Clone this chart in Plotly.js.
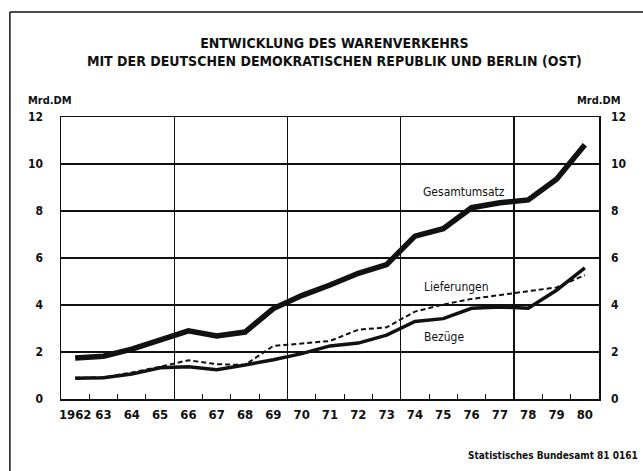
<!DOCTYPE html>
<html>
<head>
<meta charset="utf-8">
<script src="https://cdn.plot.ly/plotly-3.0.1.min.js"></script>
<style>html,body{margin:0;padding:0;background:#fff;}#chart{width:643px;height:471px;}</style>
</head>
<body>
<div id="chart"></div>
<script>
// ---- data (Mrd. DM) ----
const years = [1962,1963,1964,1965,1966,1967,1968,1969,1970,1971,1972,1973,1974,1975,1976,1977,1978,1979,1980];
const yearLabels = ['1962','63','64','65','66','67','68','69','70','71','72','73','74','75','76','77','78','79','80'];
const gesamtumsatz = [1.75,1.82,2.12,2.49,2.90,2.68,2.85,3.85,4.40,4.85,5.35,5.72,6.93,7.25,8.14,8.35,8.47,9.35,10.82];
const lieferungen  = [0.90,0.92,1.13,1.37,1.65,1.48,1.45,2.26,2.36,2.47,2.95,3.05,3.72,4.02,4.26,4.42,4.57,4.75,5.27];
const bezuege      = [0.88,0.90,1.06,1.33,1.37,1.25,1.45,1.67,1.93,2.26,2.38,2.72,3.30,3.42,3.86,3.92,3.86,4.63,5.58];
const yTickVals = [0,2,4,6,8,10,12];
const yTickText = ['0','2','4','6','8','10','12'];
const yearBounds = [1961.5,1962.5,1963.5,1964.5,1965.5,1966.5,1967.5,1968.5,1969.5,1970.5,1971.5,1972.5,1973.5,1974.5,1975.5,1976.5,1977.5,1978.5,1979.5,1980.5];
const gridBounds = [1965.5,1969.5,1973.5,1977.5];

const FONT = 'DejaVu Sans Condensed, Liberation Sans Narrow, Arial Narrow, sans-serif';
const XR = [1961.5, 1980.5];
const YR = [0, 12];

const traces = [
  {x: [], y: [], xaxis: 'x', yaxis: 'y', showlegend: false, hoverinfo: 'skip', mode: 'lines'},
  {x: [], y: [], xaxis: 'x2', yaxis: 'y', showlegend: false, hoverinfo: 'skip', mode: 'lines'},
  {x: [], y: [], xaxis: 'x3', yaxis: 'y2', showlegend: false, hoverinfo: 'skip', mode: 'lines'},
  {name: 'Lieferungen', x: years, y: lieferungen, xaxis: 'x3', yaxis: 'y', mode: 'lines',
   line: {color: '#111', width: 2, dash: '5px,3px'}, showlegend: false},
  {name: 'Bezüge', x: years, y: bezuege, xaxis: 'x3', yaxis: 'y', mode: 'lines',
   line: {color: '#111', width: 3.5}, showlegend: false},
  {name: 'Gesamtumsatz', x: years, y: gesamtumsatz, xaxis: 'x3', yaxis: 'y', mode: 'lines',
   line: {color: '#111', width: 5.5}, showlegend: false}
];

const layout = {
  width: 643, height: 471,
  margin: {l: 61, r: 44, t: 117, b: 72, pad: 0},
  paper_bgcolor: '#fff', plot_bgcolor: '#fff',
  font: {family: FONT, color: '#111', size: 13},
  showlegend: false,
  title: {
    text: 'ENTWICKLUNG DES WARENVERKEHRS<br>MIT DER DEUTSCHEN DEMOKRATISCHEN REPUBLIK UND BERLIN (OST)',
    font: {family: FONT, size: 14, color: '#111', weight: 'bold'},
    x: 0.52, xanchor: 'center', xref: 'container',
    y: 0.899, yanchor: 'top', yref: 'container'
  },
  xaxis: {
    range: XR, tickmode: 'array', tickvals: yearBounds, ticks: 'inside', ticklen: 5,
    tickcolor: '#111', tickwidth: 1, showticklabels: false, showgrid: false, zeroline: false,
    showline: true, mirror: true, linecolor: '#111', linewidth: 1.5, fixedrange: true
  },
  xaxis2: {
    overlaying: 'x', anchor: 'y', side: 'bottom', range: XR, tickmode: 'array', tickvals: gridBounds,
    ticks: '', showticklabels: false, showgrid: true, gridcolor: '#111', gridwidth: 1.2,
    zeroline: false, showline: false
  },
  xaxis3: {
    overlaying: 'x', anchor: 'y', side: 'bottom', range: XR, tickmode: 'array', tickvals: years,
    ticktext: yearLabels, ticks: '', showgrid: false, zeroline: false, showline: false,
    ticklabelstandoff: 6, tickfont: {family: FONT, size: 13, color: '#111', weight: 'bold'}
  },
  yaxis: {
    range: YR, tickmode: 'array', tickvals: yTickVals, ticktext: yTickText, ticks: '',
    showgrid: true, gridcolor: '#111', gridwidth: 1.2, zeroline: false,
    showline: true, mirror: true, linecolor: '#111', linewidth: 1.5,
    ticklabelstandoff: 14, tickfont: {family: FONT, size: 12, color: '#111', weight: 'bold'}
  },
  yaxis2: {
    overlaying: 'y', anchor: 'x', side: 'right', range: YR, tickmode: 'array', tickvals: yTickVals,
    ticktext: yTickText, ticks: '', showgrid: false, zeroline: false, showline: false,
    ticklabelstandoff: 11, tickfont: {family: FONT, size: 12, color: '#111', weight: 'bold'}
  },
  annotations: [
    {text: 'Mrd.DM', xref: 'paper', yref: 'paper', x: -0.02, y: 1.06, xanchor: 'center', yanchor: 'middle',
     showarrow: false, font: {family: FONT, size: 11, color: '#111', weight: 'bold'}},
    {text: 'Mrd.DM', xref: 'paper', yref: 'paper', x: 1.0, y: 1.06, xanchor: 'center', yanchor: 'middle',
     showarrow: false, font: {family: FONT, size: 11, color: '#111', weight: 'bold'}},
    {text: 'Gesamtumsatz', xref: 'x3', yref: 'y', x: 1974.2, y: 8.8, xanchor: 'left', yanchor: 'middle',
     showarrow: false, font: {family: FONT, size: 12, color: '#111'}},
    {text: 'Lieferungen', xref: 'x3', yref: 'y', x: 1974.25, y: 4.77, xanchor: 'left', yanchor: 'middle',
     showarrow: false, font: {family: FONT, size: 12, color: '#111'}},
    {text: 'Bezüge', xref: 'x3', yref: 'y', x: 1974.25, y: 2.64, xanchor: 'left', yanchor: 'middle',
     showarrow: false, font: {family: FONT, size: 12, color: '#111'}},
    {text: 'Statistisches Bundesamt 81 0161', xref: 'paper', yref: 'paper', x: 1.076, y: -0.199,
     xanchor: 'right', yanchor: 'middle', showarrow: false,
     font: {family: FONT, size: 10, color: '#111', weight: 'bold'}}
  ],
  shapes: [
    {type: 'line', xref: 'paper', yref: 'paper', x0: -0.095, x1: 1.09, y0: 1.372, y1: 1.372,
     line: {color: '#111', width: 1.5}},
    {type: 'line', xref: 'paper', yref: 'paper', x0: -0.095, x1: -0.095, y0: 1.372, y1: -0.26,
     line: {color: '#111', width: 1.5}}
  ]
};

Plotly.newPlot('chart', traces, layout, {displayModeBar: false, staticPlot: true});
</script>
</body>
</html>
